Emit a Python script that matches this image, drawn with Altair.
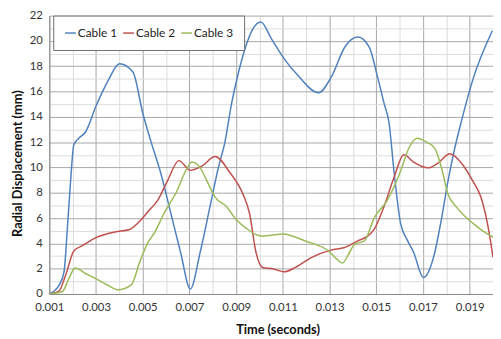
import altair as alt
import pandas as pd

# Cable 1 (blue)
t1 = [0.001, 0.00142, 0.00163, 0.00177, 0.00191, 0.00205, 0.00226, 0.00255, 0.003, 0.00353,
      0.004, 0.00458, 0.005, 0.00536, 0.00578, 0.0062, 0.00662, 0.00704, 0.00746, 0.00788,
      0.00824, 0.00852, 0.0088, 0.0091, 0.0094, 0.0097, 0.01006, 0.0105, 0.01105, 0.01168,
      0.01252, 0.01309, 0.01365, 0.01421, 0.0147, 0.01505, 0.01533, 0.01555, 0.01576, 0.01604,
      0.01632, 0.0166, 0.01702, 0.01744, 0.01779, 0.01807, 0.01836, 0.01864, 0.01913, 0.01997]
v1 = [0.0, 0.7, 1.75, 5.1, 8.9, 11.8, 12.3, 12.8, 14.85, 16.9,
      18.2, 17.55, 14.3, 12.0, 9.5, 6.4, 3.3, 0.4, 3.3, 6.9,
      10.0, 12.0, 15.0, 17.5, 19.5, 20.9, 21.5, 20.2, 18.6, 17.2,
      15.9, 17.2, 19.5, 20.3, 19.5, 17.2, 15.1, 13.5, 9.7, 5.6,
      4.3, 3.3, 1.3, 2.8, 5.9, 8.9, 11.5, 13.6, 16.9, 20.8]

# Cable 2 (red)
t2 = [0.001, 0.0014, 0.0017, 0.00205, 0.0024, 0.003, 0.00381, 0.00444, 0.00493, 0.00522,
      0.00564, 0.00606, 0.00655, 0.00704, 0.00753, 0.0081, 0.00873, 0.00929, 0.00957, 0.00985,
      0.01013, 0.01056, 0.01105, 0.01154, 0.01224, 0.01306, 0.01365, 0.01421, 0.01463, 0.01491,
      0.01533, 0.01576, 0.01618, 0.0166, 0.01723, 0.01765, 0.01815, 0.01871, 0.01913, 0.01948,
      0.01976, 0.02]
v2 = [0.0, 0.2, 1.5, 3.4, 3.8, 4.45, 4.9, 5.1, 5.86, 6.5,
      7.4, 8.94, 10.54, 9.77, 10.1, 10.87, 9.6, 7.9, 6.4, 3.3,
      2.1, 2.0, 1.75, 2.1, 2.9, 3.47, 3.68, 4.2, 4.57, 5.1,
      6.9, 9.2, 11.0, 10.43, 9.97, 10.35, 11.08, 10.2, 8.94, 7.66,
      5.6, 2.9]

# Cable 3 (green)
t3 = [0.001, 0.00156, 0.00184, 0.0021, 0.00255, 0.00297, 0.00353, 0.00395, 0.00451, 0.00487,
      0.00522, 0.0055, 0.00592, 0.00648, 0.00683, 0.00711, 0.00746, 0.00775, 0.0081, 0.00859,
      0.00901, 0.00943, 0.00985, 0.01013, 0.011, 0.01196, 0.01302, 0.0133, 0.01355, 0.01386,
      0.01407, 0.01449, 0.01491, 0.01547, 0.01604, 0.01639, 0.01674, 0.01716, 0.01751, 0.01779,
      0.01807, 0.01842, 0.01913, 0.01969, 0.02]
v3 = [0.0, 0.2, 1.23, 2.06, 1.62, 1.23, 0.67, 0.33, 0.72, 2.52,
      4.06, 4.83, 6.4, 8.2, 9.7, 10.43, 9.97, 8.94, 7.66, 6.9,
      5.86, 5.2, 4.7, 4.57, 4.75, 4.19, 3.3, 2.78, 2.44, 3.3,
      3.93, 4.19, 6.0, 7.4, 9.7, 11.5, 12.3, 12.0, 11.5, 10.0,
      7.9, 6.9, 5.6, 4.83, 4.5]

series_names = ["Cable 1", "Cable 2", "Cable 3"]
series_colors = ["#4F81BD", "#C0504D", "#9BBB59"]

x_ticks = [round(0.001 * i, 3) for i in range(1, 21)]
y_ticks = list(range(0, 23))

rows = []
for name, ts, vs in zip(series_names, [t1, t2, t3], [v1, v2, v3]):
    for i, (t, v) in enumerate(zip(ts, vs)):
        rows.append({"series": name, "t": t, "v": v, "order": i})
df = pd.DataFrame(rows)

FONT = "Lato"

chart = alt.Chart(df).mark_line(
    interpolate="monotone", strokeWidth=1.5, clip=True
).encode(
    x=alt.X("t:Q",
            scale=alt.Scale(domain=[0.001, 0.020], nice=False, zero=False),
            axis=alt.Axis(
                values=x_ticks,
                labelExpr="round(datum.value*1000) % 2 == 1 ? format(datum.value, '.3f') : ''",
                title="Time (seconds)",
                titleX=232, titleY=36, titleBaseline="middle", titleAlign="center",
                gridColor={"condition": {"test": "round(datum.value*1000) % 2 == 1", "value": "#a6a6a6"},
                           "value": "#dcdcdc"},
                ticks=False, labelPadding=8, labelFontSize=11.5,
                labelOverlap=False, labelFlush=False,
            )),
    y=alt.Y("v:Q",
            scale=alt.Scale(domain=[0, 22], nice=False),
            axis=alt.Axis(
                values=y_ticks,
                labelExpr="datum.value % 2 == 0 ? datum.value : ''",
                title="Radial Displacement (mm)",
                titleX=-32, titleY=150, titleAngle=270, titleBaseline="middle", titleAlign="center",
                gridColor={"condition": {"test": "datum.value % 2 == 0", "value": "#a6a6a6"},
                           "value": "#dcdcdc"},
                ticks=False, labelPadding=7, labelFontSize=11.5,
                labelOverlap=False,
            )),
    color=alt.Color("series:N",
                    scale=alt.Scale(domain=series_names, range=series_colors),
                    legend=alt.Legend(
                        title=None, orient="none", legendX=4, legendY=0,
                        direction="horizontal", symbolType="stroke",
                        symbolStrokeWidth=1.5, symbolSize=120,
                        fillColor="white", strokeColor="#6e6e6e",
                        padding=11, columnPadding=3, labelOffset=1,
                        labelFontSize=12, labelColor="#222222", labelFont=FONT,
                    )),
    order="order:Q",
).properties(
    width=451, height=283,
    padding={"left": 42, "top": 5, "right": 0, "bottom": 42},
    autosize=alt.AutoSizeParams(type="none"),
).configure_view(
    stroke=None
).configure_axis(
    labelFont=FONT, titleFont=FONT, titleFontSize=13, titleFontWeight="bold",
    labelColor="#333333", titleColor="#111111",
    domainColor="#8a8a8a", gridWidth=1, gridOpacity=1,
)

chart.save("out.html", embed_options={"renderer": "svg", "actions": False})
